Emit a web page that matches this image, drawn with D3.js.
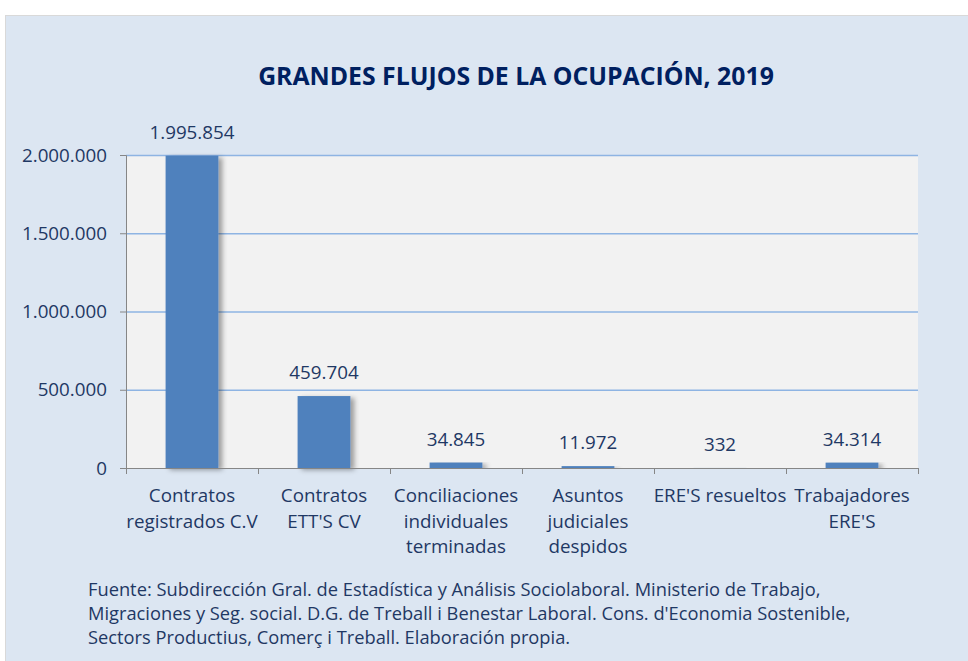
<!DOCTYPE html>
<html>
<head>
<meta charset="utf-8">
<script src="https://cdn.jsdelivr.net/npm/d3@7"></script>
<style>
  body { margin: 0; background: #fff; }
  text { font-family: "Open Sans", "Noto Sans", sans-serif; }
</style>
</head>
<body>
<div id="chart"></div>
<script>
var categories = [
  ["Contratos", "registrados C.V"],
  ["Contratos", "ETT'S CV"],
  ["Conciliaciones", "individuales", "terminadas"],
  ["Asuntos", "judiciales", "despidos"],
  ["ERE'S resueltos"],
  ["Trabajadores", "ERE'S"]
];
var values = [1995854, 459704, 34845, 11972, 332, 34314];
var yTicks = [0, 500000, 1000000, 1500000, 2000000];
var title = "GRANDES FLUJOS DE LA OCUPACIÓN, 2019";
var sourceLines = [
  "Fuente: Subdirección Gral. de Estadística y Análisis Sociolaboral. Ministerio de Trabajo,",
  "Migraciones y Seg. social. D.G. de Treball i Benestar Laboral. Cons. d'Economia Sostenible,",
  "Sectors Productius, Comerç i Treball. Elaboración propia."
];

var W = 968, H = 661;
var margin = {top: 155, right: 50, bottom: 193, left: 126},
    width = W - margin.left - margin.right,
    height = H - margin.top - margin.bottom;

var fmt = function(v){ return d3.format(",")(v).replace(/,/g, "."); };
var textCol = "#1f3864";
var fs = 18.8;

var root = d3.select("#chart").append("svg")
    .attr("width", W)
    .attr("height", H);

var defs = root.append("defs");
var f = defs.append("filter").attr("id", "shadow")
    .attr("x", "-20%").attr("y", "-5%").attr("width", "160%").attr("height", "115%");
f.append("feDropShadow").attr("dx", 4).attr("dy", 2).attr("stdDeviation", 2.5)
    .attr("flood-color", "#000").attr("flood-opacity", 0.35);

// outer chart background
root.append("rect")
    .attr("x", 5.5).attr("y", 15.5)
    .attr("width", W - 5).attr("height", H - 15)
    .attr("fill", "#dce6f2")
    .attr("stroke", "#d9d9d9");

root.append("text")
    .attr("x", 516).attr("y", 85)
    .attr("text-anchor", "middle")
    .attr("font-size", 24.8).attr("font-weight", "bold")
    .attr("fill", "#002060")
    .text(title);

var svg = root.append("g")
    .attr("transform", "translate(" + margin.left + "," + margin.top + ")");

var x = d3.scaleBand()
    .domain(d3.range(categories.length))
    .range([0, width])
    .paddingInner(0.6).paddingOuter(0.3);

var y = d3.scaleLinear()
    .domain([0, 2000000])
    .range([height, 0]);

svg.append("rect")
    .attr("width", width).attr("height", height)
    .attr("fill", "#f2f2f2");

svg.selectAll(".grid")
    .data(yTicks.filter(function(d){ return d > 0; }))
  .enter().append("line")
    .attr("class", "grid")
    .attr("x1", 0).attr("x2", width)
    .attr("y1", function(d){ return y(d) + 0.5; })
    .attr("y2", function(d){ return y(d) + 0.5; })
    .attr("stroke", "#8eb4e3")
    .attr("stroke-width", 1.5);

svg.selectAll(".bar")
    .data(values)
  .enter().append("rect")
    .attr("class", "bar")
    .attr("x", function(d, i){ return x(i); })
    .attr("y", function(d){ return y(d); })
    .attr("width", x.bandwidth())
    .attr("height", function(d){ return height - y(d); })
    .attr("fill", "#4f81bd")
    .attr("filter", "url(#shadow)");

svg.selectAll(".lbl")
    .data(values)
  .enter().append("text")
    .attr("class", "lbl")
    .attr("x", function(d, i){ return x(i) + x.bandwidth() / 2; })
    .attr("y", function(d){ return y(d) - 17; })
    .attr("text-anchor", "middle")
    .attr("font-size", fs)
    .attr("fill", textCol)
    .text(fmt);

// y axis
var yAxis = svg.append("g")
    .call(d3.axisLeft(y).tickValues(yTicks).tickSize(6).tickFormat(fmt));
yAxis.select(".domain").attr("stroke", "#868686").attr("d", "M-6,0.5H0.5V" + (height + 0.5));
yAxis.selectAll(".tick line").attr("stroke", "#868686");
yAxis.selectAll(".tick text").attr("font-size", fs).attr("fill", textCol)
    .attr("x", -19).attr("font-family", "Open Sans");

// x axis
var bounds = d3.range(categories.length + 1).map(function(i){ return i * width / categories.length; });
svg.append("line")
    .attr("x1", 0).attr("x2", width)
    .attr("y1", height + 0.5).attr("y2", height + 0.5)
    .attr("stroke", "#868686");
svg.selectAll(".xt")
    .data(bounds)
  .enter().append("line")
    .attr("class", "xt")
    .attr("x1", function(d){ return d + 0.5; })
    .attr("x2", function(d){ return d + 0.5; })
    .attr("y1", height).attr("y2", height + 6)
    .attr("stroke", "#868686");

var cl = svg.selectAll(".cat")
    .data(categories)
  .enter().append("text")
    .attr("class", "cat")
    .attr("text-anchor", "middle")
    .attr("font-size", fs)
    .attr("fill", textCol)
    .attr("transform", function(d, i){ return "translate(" + (x(i) + x.bandwidth() / 2) + "," + (height + 34) + ")"; });
cl.selectAll("tspan")
    .data(function(d){ return d; })
  .enter().append("tspan")
    .attr("x", 0)
    .attr("dy", function(d, i){ return i ? 25.5 : 0; })
    .text(function(d){ return d; });

root.append("g").selectAll("text")
    .data(sourceLines)
  .enter().append("text")
    .attr("x", 88)
    .attr("y", function(d, i){ return 596 + i * 24; })
    .attr("font-size", 18.3)
    .attr("fill", textCol)
    .text(function(d){ return d; });
</script>
</body>
</html>
